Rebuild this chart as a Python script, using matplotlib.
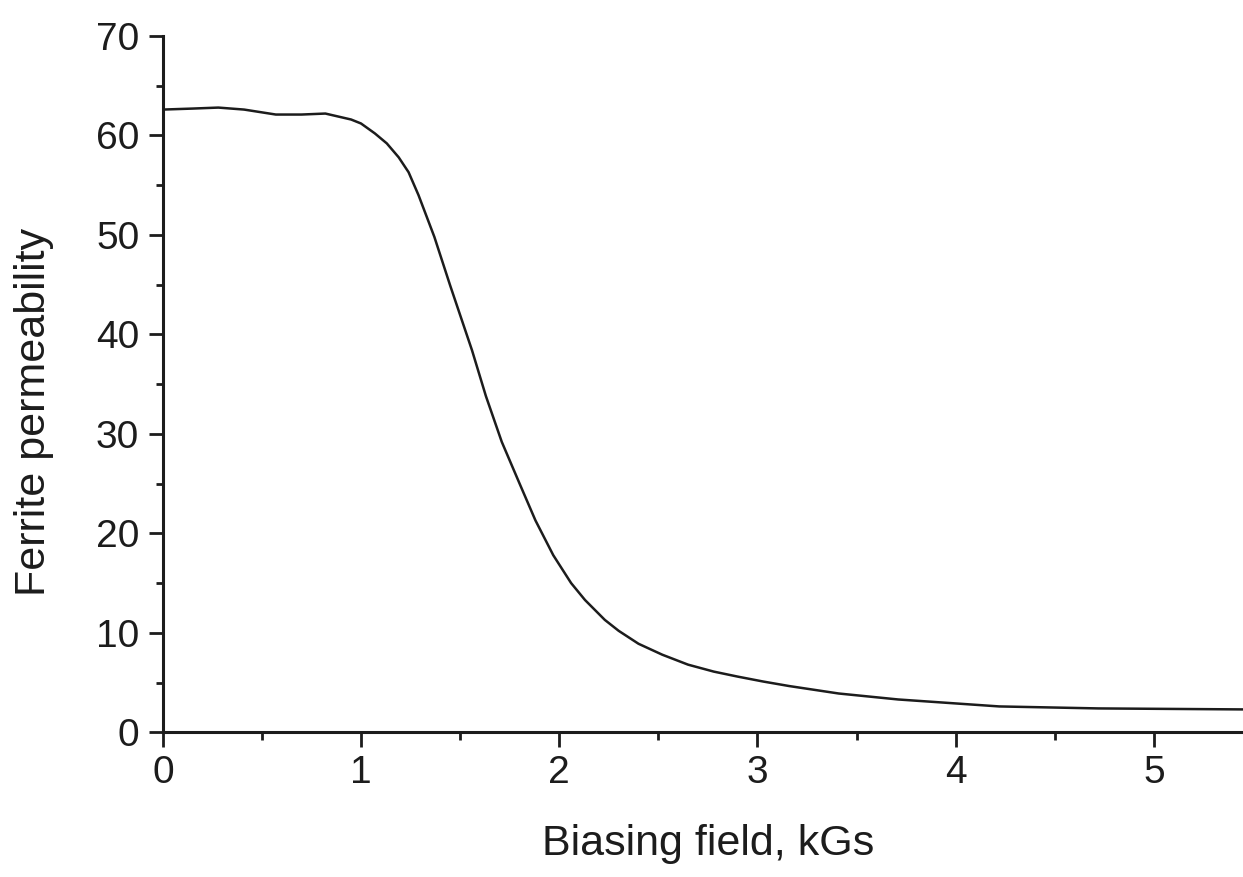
import matplotlib
matplotlib.use("Agg")
import matplotlib.pyplot as plt
from matplotlib.ticker import MultipleLocator

plt.rcParams['font.family'] = ['Liberation Sans', 'DejaVu Sans']

# biasing field (kGs) and measured ferrite permeability
field = [0.0, 0.15, 0.28, 0.41, 0.57, 0.70, 0.82, 0.95, 1.00, 1.07, 1.13, 1.19,
         1.24, 1.29, 1.37, 1.45, 1.56, 1.63, 1.71, 1.80, 1.88, 1.97, 2.06, 2.13,
         2.23, 2.30, 2.40, 2.52, 2.65, 2.78, 2.90, 3.03, 3.16, 3.41, 3.71, 4.22,
         4.72, 5.45]
permeability = [62.6, 62.7, 62.8, 62.6, 62.1, 62.1, 62.2, 61.6, 61.2, 60.2, 59.2, 57.8,
                56.3, 54.0, 49.8, 44.9, 38.4, 33.8, 29.2, 25.0, 21.3, 17.8, 15.0, 13.3,
                11.3, 10.2, 8.9, 7.8, 6.8, 6.1, 5.6, 5.1, 4.65, 3.9, 3.3, 2.6,
                2.4, 2.3]

xticks = [0, 1, 2, 3, 4, 5]
yticks = [0, 10, 20, 30, 40, 50, 60, 70]

ink = '#1c1c1c'

fig = plt.figure(figsize=(12.43, 8.77), dpi=100)
ax = fig.add_axes([0.131, 0.165, 0.869, 0.794])

ax.plot(field, permeability, color=ink, linewidth=1.8)

ax.set_xlim(0, 5.45)
ax.set_ylim(0, 70)
ax.set_xticks(xticks)
ax.set_yticks(yticks)
ax.xaxis.set_minor_locator(MultipleLocator(0.5))
ax.yaxis.set_minor_locator(MultipleLocator(5))

for side in ('top', 'right'):
    ax.spines[side].set_visible(False)
for side in ('left', 'bottom'):
    ax.spines[side].set_linewidth(2.2)
    ax.spines[side].set_color(ink)

ax.tick_params(axis='x', which='major', direction='out', length=11, width=2,
               labelsize=28, pad=5, colors=ink)
ax.tick_params(axis='x', which='minor', direction='out', length=6, width=2,
               colors=ink)
ax.tick_params(axis='y', which='major', direction='out', length=10, width=2,
               labelsize=28, pad=7, colors=ink)
ax.tick_params(axis='y', which='minor', direction='out', length=5, width=2,
               colors=ink)

# axis titles placed in figure coordinates
fig.text(0.570, 0.025, 'Biasing field, kGs', fontsize=31, color=ink,
         ha='center', va='baseline')
fig.text(0.027, 0.530, 'Ferrite permeability', fontsize=31, color=ink,
         rotation=90, ha='center', va='center')

fig.savefig('out.png', dpi=100)
